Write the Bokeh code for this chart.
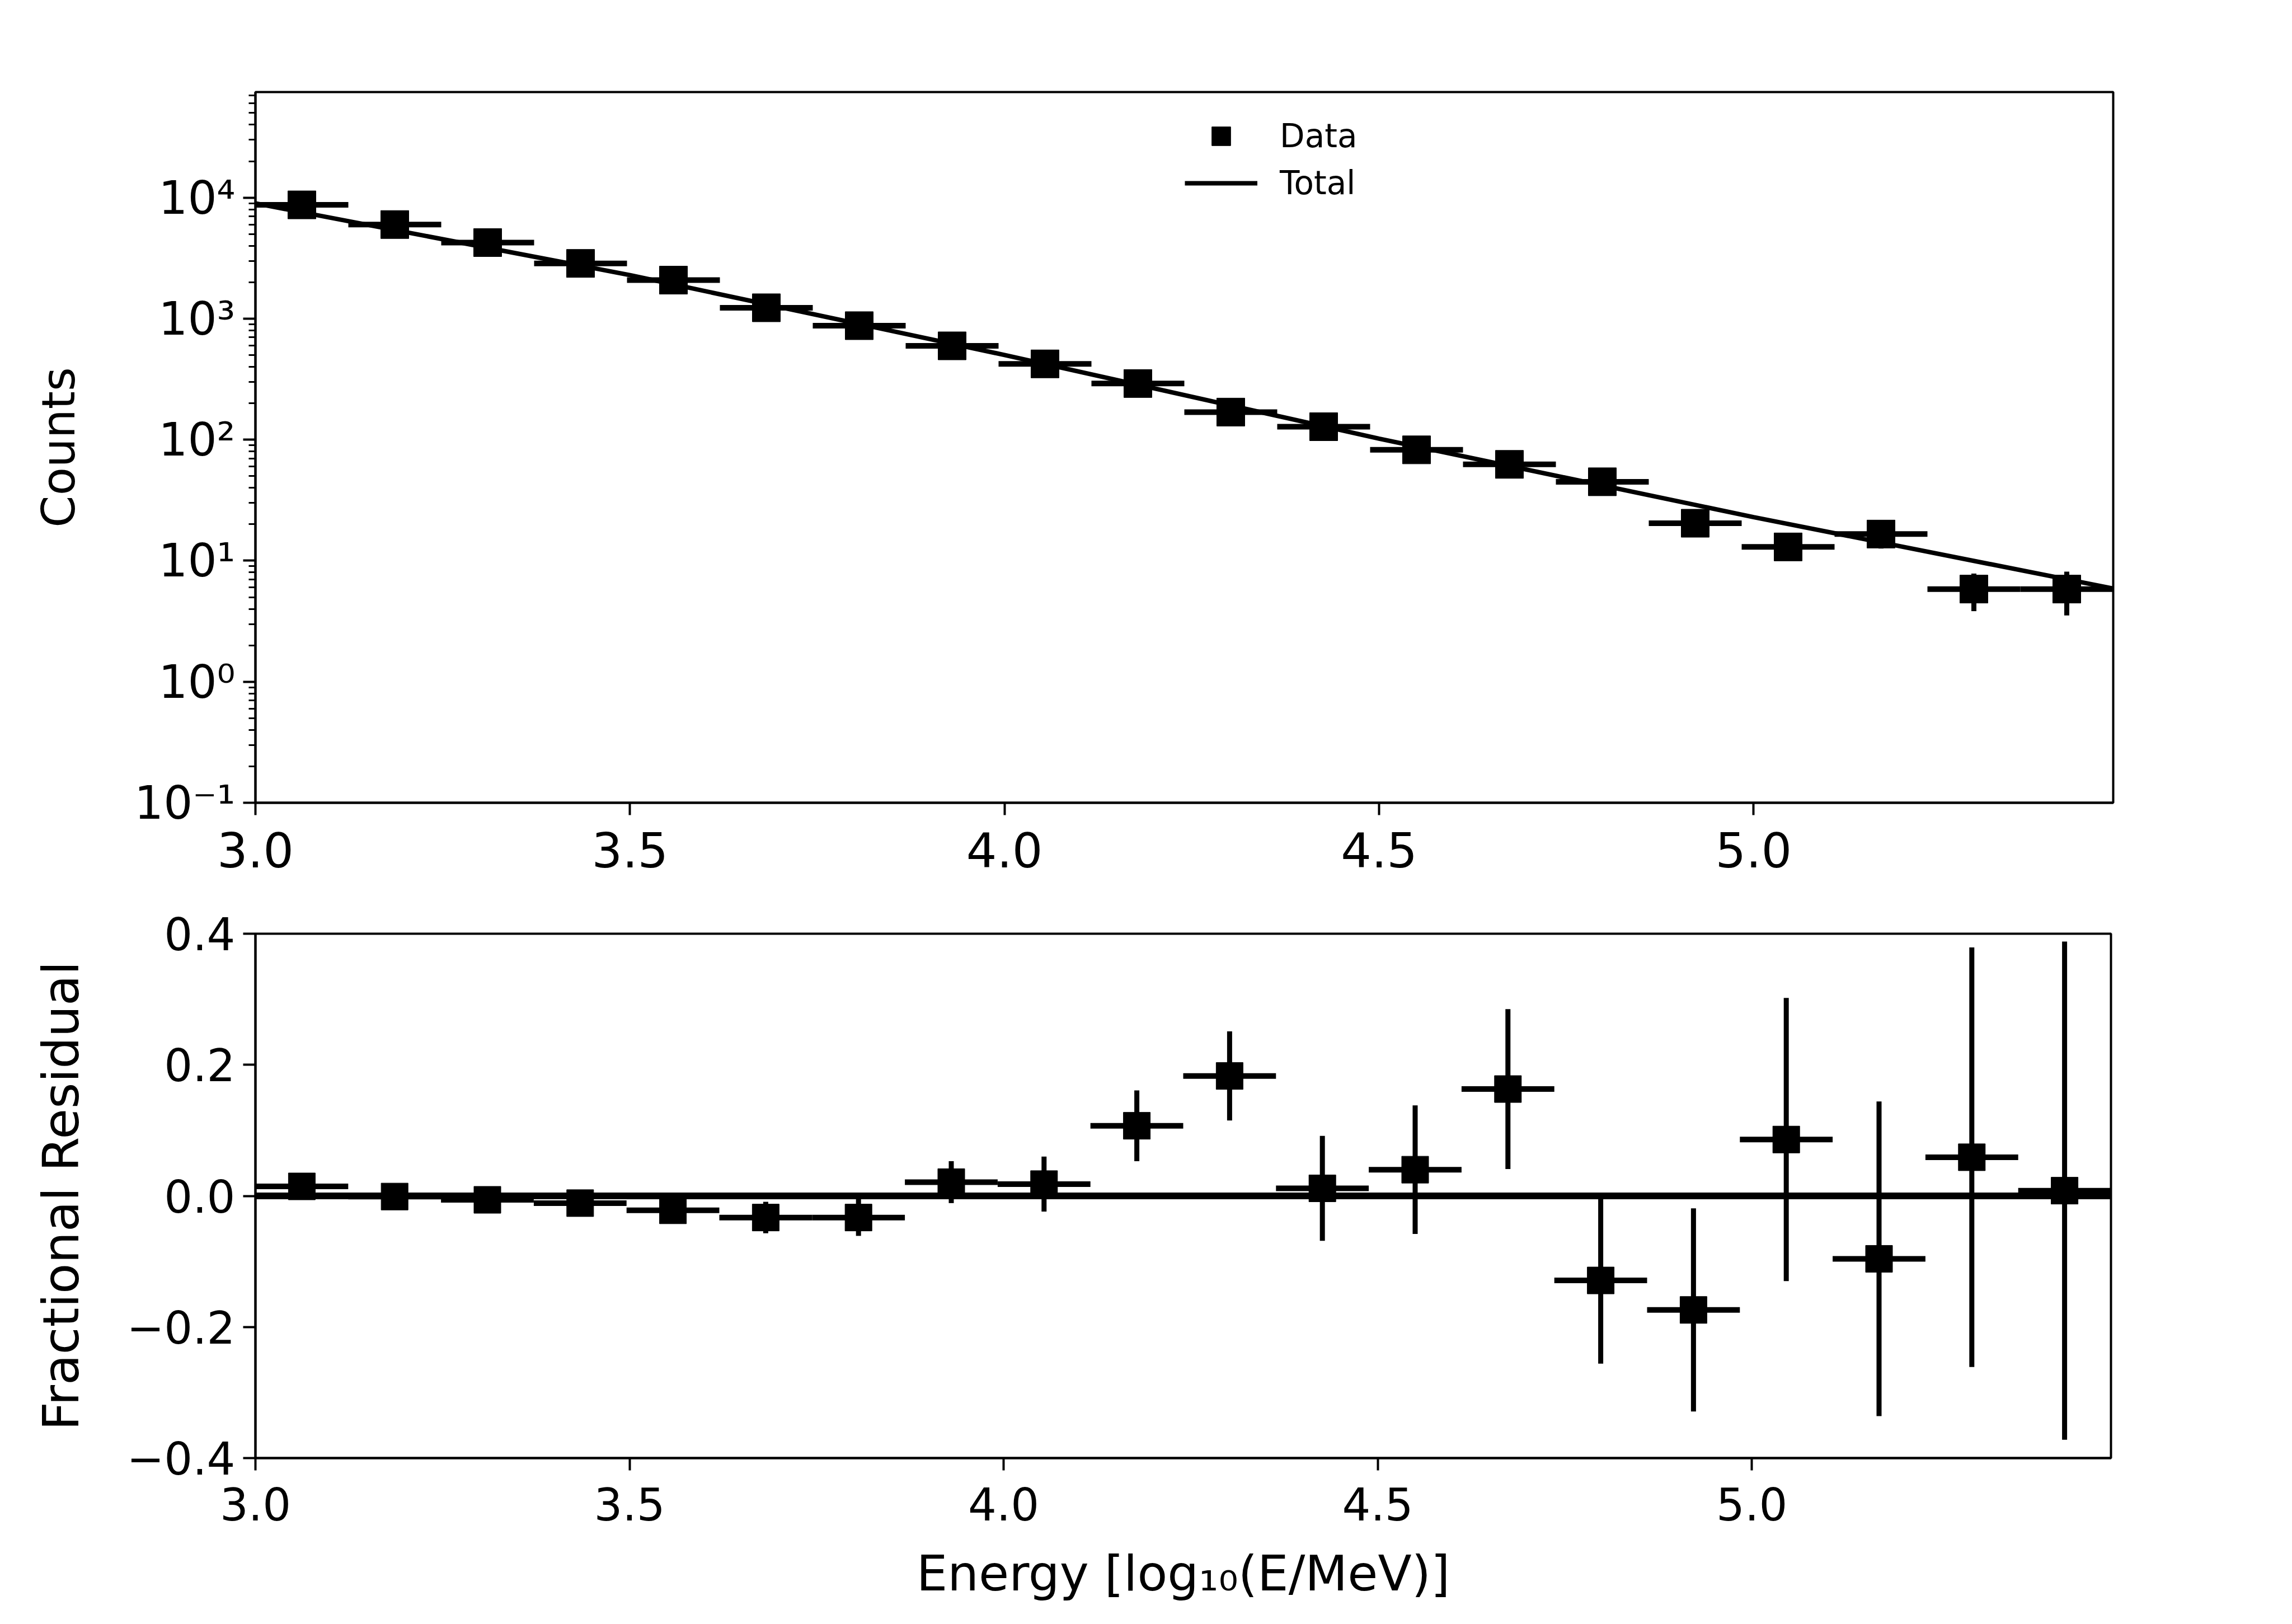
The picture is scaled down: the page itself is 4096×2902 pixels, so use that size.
import numpy as np
from bokeh.plotting import figure
from bokeh.layouts import column
from bokeh.models import (ColumnDataSource, LogTicker, FixedTicker, CustomJSTickFormatter,
                          Span, Legend, LegendItem, Range1d)
from bokeh.embed import file_html
from bokeh.resources import INLINE

# ---------------- data ----------------
energy = [3.062, 3.186, 3.310, 3.434, 3.558, 3.682, 3.806, 3.930, 4.054, 4.178,
          4.302, 4.426, 4.550, 4.674, 4.798, 4.922, 5.046, 5.170, 5.294, 5.418]
bin_halfwidth = 0.062
counts = [8710, 5990, 4250, 2860, 2080, 1230, 875, 596, 423, 291,
          169, 128, 82.4, 62.5, 44.9, 20.4, 13.0, 16.6, 5.83, 5.83]
count_err = [87, 72, 60, 49, 42, 30, 25, 19, 18, 16,
             11.5, 10.2, 8.1, 7.6, 5.7, 3.2, 2.8, 4.0, 2.0, 2.3]
model_energy = [3.0, 3.5, 4.0, 4.5, 5.0, 5.48]
model_counts = [8970, 2290, 501, 102, 22.9, 5.89]
residual = [0.0145, -0.001, -0.006, -0.011, -0.022, -0.033, -0.033, 0.021, 0.018, 0.107,
            0.183, 0.0115, 0.040, 0.163, -0.129, -0.174, 0.086, -0.096, 0.059, 0.008]
residual_err = [0.010, 0.012, 0.014, 0.017, 0.020, 0.024, 0.028, 0.032, 0.042, 0.054,
                0.068, 0.080, 0.098, 0.122, 0.127, 0.155, 0.216, 0.240, 0.320, 0.380]
x_ticks = [3.0, 3.5, 4.0, 4.5, 5.0]
res_ticks = [-0.4, -0.2, 0.0, 0.2, 0.4]

# ---------------- derived columns ----------------
e = np.array(energy)
c = np.array(counts)
ce = np.array(count_err)
r = np.array(residual)
re = np.array(residual_err)

src_top = ColumnDataSource(dict(x=e, y=c, x0=e - bin_halfwidth, x1=e + bin_halfwidth,
                                ylo=c - ce, yhi=c + ce))
src_bot = ColumnDataSource(dict(x=e, y=r, x0=e - bin_halfwidth, x1=e + bin_halfwidth,
                                ylo=r - re, yhi=r + re))

FONT = "DejaVu Sans"

fmt_dec = CustomJSTickFormatter(code="""
const s = Math.abs(tick).toFixed(1);
return (tick < -1e-9 ? '\\u2212' : '') + s;
""")
fmt_log = CustomJSTickFormatter(code="""
const e = Math.round(Math.log10(tick));
const sup = {'-':'\\u207b','0':'\\u2070','1':'\\u00b9','2':'\\u00b2','3':'\\u00b3','4':'\\u2074',
             '5':'\\u2075','6':'\\u2076','7':'\\u2077','8':'\\u2078','9':'\\u2079'};
return '10' + String(e).split('').map(ch => sup[ch]).join('');
""")


def style(p):
    p.xgrid.visible = False
    p.ygrid.visible = False
    p.outline_line_color = "black"
    p.outline_line_width = 4
    p.outline_line_alpha = 1.0
    p.background_fill_color = "white"
    p.border_fill_color = "white"
    for ax in p.axis:
        ax.axis_line_color = "black"
        ax.axis_line_width = 4
        ax.major_tick_line_color = "black"
        ax.major_tick_line_width = 4
        ax.major_tick_out = 22
        ax.major_tick_in = 0
        ax.minor_tick_line_color = "black"
        ax.minor_tick_line_width = 3
        ax.minor_tick_out = 12
        ax.minor_tick_in = 0
        ax.major_label_text_font = FONT
        ax.major_label_text_color = "black"
        ax.axis_label_text_font = FONT
        ax.axis_label_text_font_style = "normal"
        ax.axis_label_text_color = "black"


# ---------------- top panel ----------------
p1 = figure(width=4080, height=1600, frame_width=3320, frame_height=1270,
            min_border_left=441, min_border_right=319, min_border_top=164, min_border_bottom=166,
            x_range=Range1d(3.0, 5.48), y_range=Range1d(0.1, 74500), y_axis_type="log",
            output_backend="svg", toolbar_location=None)
style(p1)
p1.xaxis.ticker = FixedTicker(ticks=x_ticks)
p1.xaxis.formatter = fmt_dec
p1.xaxis.minor_tick_line_color = None
p1.xaxis.major_label_text_font_size = "86px"
p1.xaxis.major_label_standoff = 30
p1.yaxis.ticker = LogTicker(desired_num_ticks=6, num_minor_ticks=10)
p1.yaxis.formatter = fmt_log
p1.yaxis.major_label_text_font_size = "82px"
p1.yaxis.major_label_standoff = 14
p1.yaxis.axis_label = "Counts"
p1.yaxis.axis_label_text_font_size = "82px"
p1.yaxis.axis_label_standoff = 85

p1.segment(x0="x0", x1="x1", y0="y", y1="y", source=src_top, line_color="black", line_width=10)
p1.segment(x0="x", x1="x", y0="ylo", y1="yhi", source=src_top, line_color="black", line_width=9)
r_data = p1.scatter("x", "y", source=src_top, marker="square", size=50,
                    fill_color="black", line_color="black")
r_model = p1.line(model_energy, model_counts, line_color="black", line_width=8)

legend = Legend(items=[LegendItem(label="Data", renderers=[r_data]),
                       LegendItem(label="Total", renderers=[r_model])],
                location=(1661, 1065), orientation="vertical",
                glyph_width=130, glyph_height=84, spacing=0, label_standoff=40,
                padding=0, margin=0, border_line_alpha=0, background_fill_alpha=0,
                label_text_font=FONT, label_text_font_size="58px", label_text_color="black")
p1.add_layout(legend)

# ---------------- bottom panel ----------------
p2 = figure(width=4080, height=1286, frame_width=3316, frame_height=937,
            min_border_left=456, min_border_right=308, min_border_top=68, min_border_bottom=281,
            x_range=Range1d(3.0, 5.48), y_range=Range1d(-0.4, 0.4),
            output_backend="svg", toolbar_location=None)
style(p2)
p2.xaxis.ticker = FixedTicker(ticks=x_ticks)
p2.xaxis.formatter = fmt_dec
p2.yaxis.ticker = FixedTicker(ticks=res_ticks)
p2.yaxis.formatter = fmt_dec
for ax in p2.axis:
    ax.minor_tick_line_color = None
    ax.major_label_text_font_size = "80px"
    ax.major_label_standoff = 14
p2.xaxis.major_label_standoff = 30
p2.yaxis.axis_label = "Fractional Residual"
p2.yaxis.axis_label_text_font_size = "89px"
p2.yaxis.axis_label_standoff = 62
p2.xaxis.axis_label = "Energy [log\u2081\u2080(E/MeV)]"
p2.xaxis.axis_label_text_font_size = "88px"
p2.xaxis.axis_label_standoff = 40

p2.segment(x0="x0", x1="x1", y0="y", y1="y", source=src_bot, line_color="black", line_width=10)
p2.segment(x0="x", x1="x", y0="ylo", y1="yhi", source=src_bot, line_color="black", line_width=9)
p2.scatter("x", "y", source=src_bot, marker="square", size=48, fill_color="black", line_color="black")
p2.add_layout(Span(location=0, dimension="width", line_color="black", line_width=12))

layout = column(p1, p2, spacing=0)
open("out.html", "w").write(file_html(layout, INLINE))
